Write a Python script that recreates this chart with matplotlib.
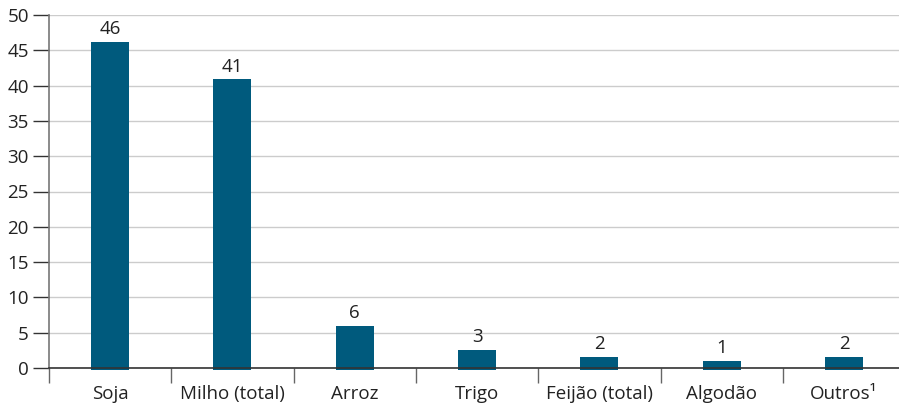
import numpy as np
import matplotlib.pyplot as plt

plt.rcParams['font.family'] = ['Open Sans', 'DejaVu Sans']

categories = ["Soja", "Milho (total)", "Arroz", "Trigo", "Feijão (total)", "Algodão", "Outros¹"]
values     = [46.2, 40.9, 6.0, 2.6, 1.6, 1.0, 1.6]
labels     = ["46", "41", "6", "3", "2", "1", "2"]
yticks     = [0, 5, 10, 15, 20, 25, 30, 35, 40, 45, 50]

barColor = "#005a7d"
fs = 13.5

fig = plt.figure(figsize=(8.99, 4.04), dpi=100)
ax  = fig.add_axes([49/899, 36/404, 850/899, 353/404])

x = np.arange(len(categories))
#---- bars ----
bars = ax.bar(x, np.array(values) + 0.25, bottom=-0.25, width=0.31,
              color=barColor, zorder=3, clip_on=False)
for xi, v, lab in zip(x, values, labels):
  ax.text(xi, v + 0.5, lab, ha="center", va="bottom", fontsize=fs, color="#222222")

#---- axes ----
ax.set_ylim(0, 50)
ax.set_xlim(-0.5, 6.45)
ax.set_yticks(yticks)
ax.set_yticklabels([str(t) for t in yticks])
ax.yaxis.grid(True, color="#cccccc", linewidth=1, zorder=0)
ax.tick_params(axis="y", length=11.5, width=1, color="#333333", labelsize=fs,
               labelcolor="#222222", pad=3)

ax.set_xticks(x)
ax.set_xticklabels(categories)
ax.tick_params(axis="x", which="major", length=0, pad=12, labelsize=fs, labelcolor="#222222")
ax.set_xticks(np.arange(-0.5, 6.0, 1.0), minor=True)
ax.tick_params(axis="x", which="minor", length=11, width=1, color="#666666")

for side in ["top", "right"]:
  ax.spines[side].set_visible(False)
ax.spines["left"].set_color("#777777")
ax.spines["left"].set_linewidth(1.2)
ax.spines["bottom"].set_color("#333333")
ax.spines["bottom"].set_linewidth(1.2)
ax.spines["bottom"].set_zorder(4)

fig.savefig("out.png", dpi=100)
